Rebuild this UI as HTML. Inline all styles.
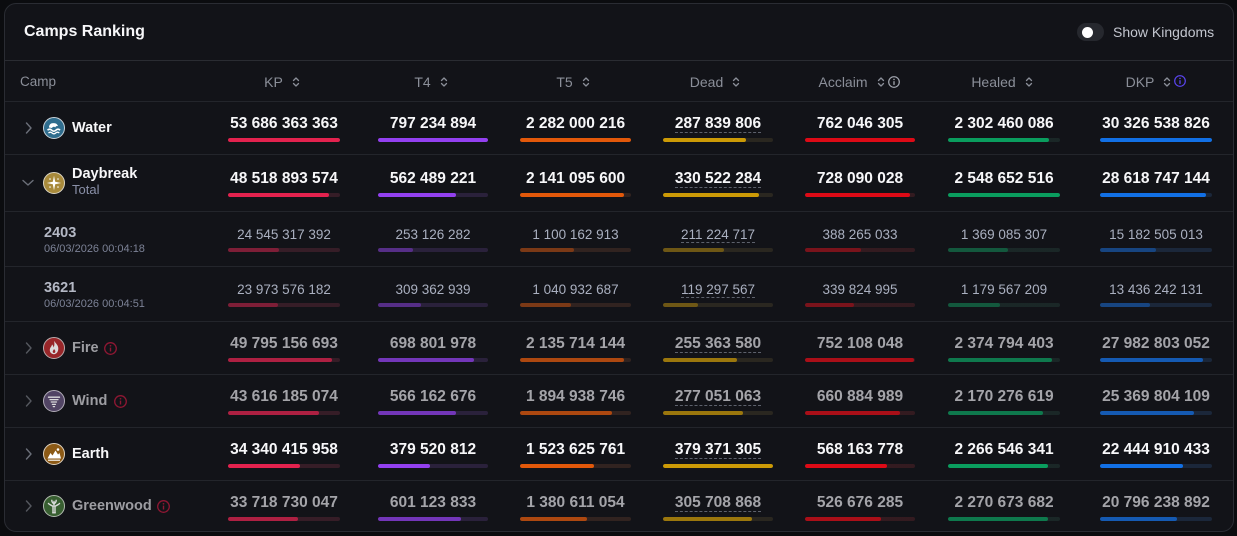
<!DOCTYPE html>
<html><head><meta charset="utf-8">
<style>
*{box-sizing:border-box}
html,body{margin:0;padding:0}
body{width:1237px;height:536px;overflow:hidden;background:#0b0c0f;font-family:"Liberation Sans",sans-serif;position:relative}
.card{position:absolute;left:4px;top:3px;width:1230px;height:529px;border:1px solid #2a2c33;border-radius:12px;background:#121318}
.hl{position:absolute;left:5px;width:1228px;height:1px;background:#23252b}
.t{position:absolute;white-space:nowrap}
.v{position:absolute;width:150px;height:20px;line-height:20px;text-align:center;font-weight:bold;font-size:15.5px;color:#f7f7f9;white-space:nowrap}
.dim .v{color:#a4a4a9}
.k .v{font-weight:normal;font-size:13.5px;color:#aab0c0}
.u{border-bottom:1px dashed #5d616c}
.b{position:absolute;height:4px;border-radius:2px;overflow:hidden}
.b i{display:block;height:100%;border-radius:2px}
.dim .b i{opacity:.7}
.k .b i{opacity:.42}
.c1{background:linear-gradient(rgba(225,29,72,.13),rgba(225,29,72,.13)),#1c1d22}.c1 i{background:#e3224e}
.c2{background:linear-gradient(rgba(147,64,240,.12),rgba(147,64,240,.12)),#1c1d22}.c2 i{background:#9340f0}
.c3{background:linear-gradient(rgba(234,88,12,.1),rgba(234,88,12,.1)),#1c1d22}.c3 i{background:#e2580a}
.c4{background:linear-gradient(rgba(204,154,6,.08),rgba(204,154,6,.08)),#1c1d22}.c4 i{background:#cc9a06}
.c5{background:linear-gradient(rgba(220,10,20,.12),rgba(220,10,20,.12)),#1c1d22}.c5 i{background:#dd0a16}
.c6{background:linear-gradient(rgba(10,157,94,.08),rgba(10,157,94,.08)),#1c1d22}.c6 i{background:#0a9d5e}
.c7{background:linear-gradient(rgba(18,112,229,.12),rgba(18,112,229,.12)),#1c1d22}.c7 i{background:#1270e5}
.hd{position:absolute;top:72px;width:140px;height:20px;display:flex;justify-content:center;align-items:center;font-size:14px;color:#8b8f99;gap:9px}
.hd svg{display:block}
.nm{position:absolute;left:72px;font-weight:bold;font-size:14.5px;color:#f7f7f9;height:20px;line-height:20px;white-space:nowrap}
.dim .nm{color:#9d9da2}
.ic{position:absolute;left:43px;width:22px;height:22px}
.dim .ic{opacity:.85}
.ch{position:absolute}
</style></head><body>
<div class="card"></div>

<div class="t" style="left:24px;top:22px;line-height:20px;font-size:16px;font-weight:bold;color:#f7f7f9">Camps Ranking</div>
<div style="position:absolute;left:1077px;top:23px;width:27px;height:18px;border-radius:9px;background:#26282e"></div>
<div style="position:absolute;left:1081.5px;top:27px;width:11px;height:11px;border-radius:50%;background:#fff"></div>
<div class="t" style="left:1113px;top:22px;line-height:20px;font-size:14px;color:#c3c6cf">Show Kingdoms</div>

<div class="hl" style="top:60px;background:#2a2c32"></div>
<div class="hl" style="top:101px"></div>
<div class="hl" style="top:154px"></div>
<div class="hl" style="top:211px"></div>
<div class="hl" style="top:266px"></div>
<div class="hl" style="top:321px"></div>
<div class="hl" style="top:374px"></div>
<div class="hl" style="top:427px"></div>
<div class="hl" style="top:480px"></div>

<!-- headers -->
<div class="t" style="left:20px;top:72px;line-height:20px;font-size:13.5px;color:#8b8f99">Camp</div>
<div class="hd" style="left:212px">KP<svg width="8" height="12" viewBox="0 0 8 12"><path d="M1.5 4.5L4 2L6.5 4.5M1.5 7.5L4 10L6.5 7.5" fill="none" stroke="#8b8f99" stroke-width="1.3" stroke-linecap="round" stroke-linejoin="round"/></svg></div>
<div class="hd" style="left:361px">T4<svg width="8" height="12" viewBox="0 0 8 12"><path d="M1.5 4.5L4 2L6.5 4.5M1.5 7.5L4 10L6.5 7.5" fill="none" stroke="#8b8f99" stroke-width="1.3" stroke-linecap="round" stroke-linejoin="round"/></svg></div>
<div class="hd" style="left:503px">T5<svg width="8" height="12" viewBox="0 0 8 12"><path d="M1.5 4.5L4 2L6.5 4.5M1.5 7.5L4 10L6.5 7.5" fill="none" stroke="#8b8f99" stroke-width="1.3" stroke-linecap="round" stroke-linejoin="round"/></svg></div>
<div class="hd" style="left:645px">Dead<svg width="8" height="12" viewBox="0 0 8 12"><path d="M1.5 4.5L4 2L6.5 4.5M1.5 7.5L4 10L6.5 7.5" fill="none" stroke="#8b8f99" stroke-width="1.3" stroke-linecap="round" stroke-linejoin="round"/></svg></div>
<div class="hd" style="left:789px">Acclaim<span style="display:flex;gap:3px;align-items:center"><svg width="8" height="12" viewBox="0 0 8 12"><path d="M1.5 4.5L4 2L6.5 4.5M1.5 7.5L4 10L6.5 7.5" fill="none" stroke="#8b8f99" stroke-width="1.3" stroke-linecap="round" stroke-linejoin="round"/></svg><svg width="12" height="12" viewBox="0 0 12 12"><circle cx="6" cy="6" r="5.3" fill="none" stroke="#a3a7b0" stroke-width="1.2"/><path d="M6 5.2V8.9" stroke="#a3a7b0" stroke-width="1.3"/><circle cx="6" cy="3.4" r=".8" fill="#a3a7b0"/></svg></span></div>
<div class="hd" style="left:932px">Healed<svg width="8" height="12" viewBox="0 0 8 12"><path d="M1.5 4.5L4 2L6.5 4.5M1.5 7.5L4 10L6.5 7.5" fill="none" stroke="#8b8f99" stroke-width="1.3" stroke-linecap="round" stroke-linejoin="round"/></svg></div>
<div class="hd" style="left:1086px">DKP<span style="display:flex;gap:3px;align-items:center"><svg width="8" height="12" viewBox="0 0 8 12"><path d="M1.5 4.5L4 2L6.5 4.5M1.5 7.5L4 10L6.5 7.5" fill="none" stroke="#8b8f99" stroke-width="1.3" stroke-linecap="round" stroke-linejoin="round"/></svg><svg width="12" height="12" viewBox="0 0 12 12" style="margin-top:-3px"><circle cx="6" cy="6" r="5.3" fill="none" stroke="#5b45f0" stroke-width="1.2"/><path d="M6 5.2V8.9" stroke="#5b45f0" stroke-width="1.3"/><circle cx="6" cy="3.4" r=".8" fill="#5b45f0"/></svg></span></div>

<!-- WATER -->
<div>
<svg class="ch" style="left:25px;top:122px" width="8" height="12" viewBox="0 0 8 12"><path d="M1.5 1L6 6L1.5 11" fill="none" stroke="#6b6f79" stroke-width="1.4" stroke-linecap="round" stroke-linejoin="round"/></svg>
<svg class="ic" style="top:116.5px" viewBox="0 0 22 22"><circle cx="11" cy="11" r="10.5" fill="#2f6d8e" stroke="#c9d3da" stroke-width="1"/><path d="M6 10.5C6 7.5 8 6 10.5 6.2C13 6 14.5 7.5 15 9.2C13.5 8.6 12.5 9.5 12.2 10.5C11.3 9.3 9.5 9.6 9 11Z" fill="#fff"/><path d="M4.5 13.2q2.1-2 4.2 0t4.2 0t4.2 0" fill="none" stroke="#fff" stroke-width="1.5"/><path d="M5.5 16q1.8-1.6 3.6 0t3.6 0t3.6 0" fill="none" stroke="#fff" stroke-width="1.3"/></svg>
<div class="nm" style="top:118px">Water</div>
<div class="v" style="left:209px;top:114px">53 686 363 363</div><div class="b c1" style="left:228px;top:138px;width:112px"><i style="width:100%"></i></div>
<div class="v" style="left:358px;top:114px">797 234 894</div><div class="b c2" style="left:378px;top:138px;width:110px"><i style="width:100%"></i></div>
<div class="v" style="left:500.5px;top:114px">2 282 000 216</div><div class="b c3" style="left:520px;top:138px;width:111px"><i style="width:100%"></i></div>
<div class="v" style="left:643px;top:114px"><span class="u">287 839 806</span></div><div class="b c4" style="left:663px;top:138px;width:110px"><i style="width:75.9%"></i></div>
<div class="v" style="left:785px;top:114px">762 046 305</div><div class="b c5" style="left:805px;top:138px;width:110px"><i style="width:100%"></i></div>
<div class="v" style="left:929px;top:114px">2 302 460 086</div><div class="b c6" style="left:948px;top:138px;width:112px"><i style="width:90.3%"></i></div>
<div class="v" style="left:1081px;top:114px">30 326 538 826</div><div class="b c7" style="left:1100px;top:138px;width:112px"><i style="width:100%"></i></div>
</div>

<!-- DAYBREAK -->
<div>
<svg class="ch" style="left:22px;top:179px" width="12" height="8" viewBox="0 0 12 8"><path d="M1 1.5L6 6L11 1.5" fill="none" stroke="#6b6f79" stroke-width="1.4" stroke-linecap="round" stroke-linejoin="round"/></svg>
<svg class="ic" style="top:172px" viewBox="0 0 22 22"><circle cx="11" cy="11" r="10.5" fill="#a88a3b" stroke="#ddd6c3" stroke-width="1"/><path d="M11 3.8L12.2 9.8L18.2 11L12.2 12.2L11 18.2L9.8 12.2L3.8 11L9.8 9.8Z" fill="#fff"/><circle cx="7" cy="7" r=".8" fill="#fff"/><circle cx="15" cy="7" r=".8" fill="#fff"/><circle cx="7" cy="15" r=".8" fill="#fff"/><circle cx="15" cy="15" r=".8" fill="#fff"/></svg>
<div class="nm" style="top:164px">Daybreak</div>
<div class="t" style="left:72px;top:181px;line-height:18px;font-size:13px;color:#8a90a8">Total</div>
<div class="v" style="left:209px;top:169px">48 518 893 574</div><div class="b c1" style="left:228px;top:193px;width:112px"><i style="width:90.4%"></i></div>
<div class="v" style="left:358px;top:169px">562 489 221</div><div class="b c2" style="left:378px;top:193px;width:110px"><i style="width:70.6%"></i></div>
<div class="v" style="left:500.5px;top:169px">2 141 095 600</div><div class="b c3" style="left:520px;top:193px;width:111px"><i style="width:93.8%"></i></div>
<div class="v" style="left:643px;top:169px"><span class="u">330 522 284</span></div><div class="b c4" style="left:663px;top:193px;width:110px"><i style="width:87.1%"></i></div>
<div class="v" style="left:785px;top:169px">728 090 028</div><div class="b c5" style="left:805px;top:193px;width:110px"><i style="width:95.5%"></i></div>
<div class="v" style="left:929px;top:169px">2 548 652 516</div><div class="b c6" style="left:948px;top:193px;width:112px"><i style="width:100%"></i></div>
<div class="v" style="left:1081px;top:169px">28 618 747 144</div><div class="b c7" style="left:1100px;top:193px;width:112px"><i style="width:94.4%"></i></div>
</div>

<!-- 2403 -->
<div class="k">
<div class="t" style="left:44px;top:223px;line-height:20px;font-size:14.5px;font-weight:bold;color:#b4b8c5">2403</div>
<div class="t" style="left:44px;top:241.5px;line-height:14px;font-size:11px;color:#7c8296">06/03/2026 00:04:18</div>
<div class="v" style="left:209px;top:225px">24 545 317 392</div><div class="b c1" style="left:228px;top:248px;width:112px"><i style="width:45.7%"></i></div>
<div class="v" style="left:358px;top:225px">253 126 282</div><div class="b c2" style="left:378px;top:248px;width:110px"><i style="width:31.8%"></i></div>
<div class="v" style="left:500.5px;top:225px">1 100 162 913</div><div class="b c3" style="left:520px;top:248px;width:111px"><i style="width:48.2%"></i></div>
<div class="v" style="left:643px;top:225px"><span class="u">211 224 717</span></div><div class="b c4" style="left:663px;top:248px;width:110px"><i style="width:55.7%"></i></div>
<div class="v" style="left:785px;top:225px">388 265 033</div><div class="b c5" style="left:805px;top:248px;width:110px"><i style="width:51%"></i></div>
<div class="v" style="left:929px;top:225px">1 369 085 307</div><div class="b c6" style="left:948px;top:248px;width:112px"><i style="width:53.7%"></i></div>
<div class="v" style="left:1081px;top:225px">15 182 505 013</div><div class="b c7" style="left:1100px;top:248px;width:112px"><i style="width:50.1%"></i></div>
</div>

<!-- 3621 -->
<div class="k">
<div class="t" style="left:44px;top:278px;line-height:20px;font-size:14.5px;font-weight:bold;color:#b4b8c5">3621</div>
<div class="t" style="left:44px;top:296.5px;line-height:14px;font-size:11px;color:#7c8296">06/03/2026 00:04:51</div>
<div class="v" style="left:209px;top:280px">23 973 576 182</div><div class="b c1" style="left:228px;top:303px;width:112px"><i style="width:44.7%"></i></div>
<div class="v" style="left:358px;top:280px">309 362 939</div><div class="b c2" style="left:378px;top:303px;width:110px"><i style="width:38.8%"></i></div>
<div class="v" style="left:500.5px;top:280px">1 040 932 687</div><div class="b c3" style="left:520px;top:303px;width:111px"><i style="width:45.6%"></i></div>
<div class="v" style="left:643px;top:280px"><span class="u">119 297 567</span></div><div class="b c4" style="left:663px;top:303px;width:110px"><i style="width:31.4%"></i></div>
<div class="v" style="left:785px;top:280px">339 824 995</div><div class="b c5" style="left:805px;top:303px;width:110px"><i style="width:44.6%"></i></div>
<div class="v" style="left:929px;top:280px">1 179 567 209</div><div class="b c6" style="left:948px;top:303px;width:112px"><i style="width:46.3%"></i></div>
<div class="v" style="left:1081px;top:280px">13 436 242 131</div><div class="b c7" style="left:1100px;top:303px;width:112px"><i style="width:44.3%"></i></div>
</div>

<!-- FIRE -->
<div class="dim">
<svg class="ch" style="left:25px;top:342px" width="8" height="12" viewBox="0 0 8 12"><path d="M1.5 1L6 6L1.5 11" fill="none" stroke="#55585f" stroke-width="1.4" stroke-linecap="round" stroke-linejoin="round"/></svg>
<svg class="ic" style="top:337px" viewBox="0 0 22 22"><circle cx="11" cy="11" r="10.5" fill="#b02a2c" stroke="#d8c6c6" stroke-width="1"/><path d="M11 3.8C13 6.8 16 8.8 15.2 12.8C14.7 15.8 12.7 17.2 11 17.2C8.8 17.2 6.8 15.6 6.8 13C6.8 10.5 8.8 9.6 9 7.4C10 8.4 10.5 9.5 10.5 10.6C11.6 9 11.6 6.2 11 3.8Z" fill="#fff"/><path d="M11 12C12 13 12.6 14 12.3 15C12 15.8 11.5 16 11 16C10.2 16 9.7 15.4 9.7 14.6C9.7 13.6 10.6 13.2 11 12Z" fill="#b02a2c"/></svg>
<div class="nm" style="top:338px">Fire</div>
<svg style="position:absolute;left:103.5px;top:341.5px" width="13" height="13" viewBox="0 0 13 13"><circle cx="6.5" cy="6.5" r="5.8" fill="none" stroke="#8f1733" stroke-width="1.3"/><path d="M6.5 5.6V9.5" stroke="#8f1733" stroke-width="1.4"/><circle cx="6.5" cy="3.8" r=".85" fill="#8f1733"/></svg>
<div class="v" style="left:209px;top:334px">49 795 156 693</div><div class="b c1" style="left:228px;top:358px;width:112px"><i style="width:92.8%"></i></div>
<div class="v" style="left:358px;top:334px">698 801 978</div><div class="b c2" style="left:378px;top:358px;width:110px"><i style="width:87.7%"></i></div>
<div class="v" style="left:500.5px;top:334px">2 135 714 144</div><div class="b c3" style="left:520px;top:358px;width:111px"><i style="width:93.6%"></i></div>
<div class="v" style="left:643px;top:334px"><span class="u">255 363 580</span></div><div class="b c4" style="left:663px;top:358px;width:110px"><i style="width:67.3%"></i></div>
<div class="v" style="left:785px;top:334px">752 108 048</div><div class="b c5" style="left:805px;top:358px;width:110px"><i style="width:98.7%"></i></div>
<div class="v" style="left:929px;top:334px">2 374 794 403</div><div class="b c6" style="left:948px;top:358px;width:112px"><i style="width:93.2%"></i></div>
<div class="v" style="left:1081px;top:334px">27 982 803 052</div><div class="b c7" style="left:1100px;top:358px;width:112px"><i style="width:92.3%"></i></div>
</div>

<!-- WIND -->
<div class="dim">
<svg class="ch" style="left:25px;top:395px" width="8" height="12" viewBox="0 0 8 12"><path d="M1.5 1L6 6L1.5 11" fill="none" stroke="#55585f" stroke-width="1.4" stroke-linecap="round" stroke-linejoin="round"/></svg>
<svg class="ic" style="top:390px" viewBox="0 0 22 22"><circle cx="11" cy="11" r="10.5" fill="#5d4d72" stroke="#cfc9d6" stroke-width="1"/><path d="M5.5 7.2H16.5M7 9.6H15M8.3 12H13.5M9.4 14.4H12.4M10.3 16.6H11.5" stroke="#fff" stroke-width="1.3" stroke-linecap="round"/></svg>
<div class="nm" style="top:391px">Wind</div>
<svg style="position:absolute;left:113.5px;top:394.5px" width="13" height="13" viewBox="0 0 13 13"><circle cx="6.5" cy="6.5" r="5.8" fill="none" stroke="#8f1733" stroke-width="1.3"/><path d="M6.5 5.6V9.5" stroke="#8f1733" stroke-width="1.4"/><circle cx="6.5" cy="3.8" r=".85" fill="#8f1733"/></svg>
<div class="v" style="left:209px;top:387px">43 616 185 074</div><div class="b c1" style="left:228px;top:411px;width:112px"><i style="width:81.2%"></i></div>
<div class="v" style="left:358px;top:387px">566 162 676</div><div class="b c2" style="left:378px;top:411px;width:110px"><i style="width:71%"></i></div>
<div class="v" style="left:500.5px;top:387px">1 894 938 746</div><div class="b c3" style="left:520px;top:411px;width:111px"><i style="width:83%"></i></div>
<div class="v" style="left:643px;top:387px"><span class="u">277 051 063</span></div><div class="b c4" style="left:663px;top:411px;width:110px"><i style="width:73%"></i></div>
<div class="v" style="left:785px;top:387px">660 884 989</div><div class="b c5" style="left:805px;top:411px;width:110px"><i style="width:86.7%"></i></div>
<div class="v" style="left:929px;top:387px">2 170 276 619</div><div class="b c6" style="left:948px;top:411px;width:112px"><i style="width:85.2%"></i></div>
<div class="v" style="left:1081px;top:387px">25 369 804 109</div><div class="b c7" style="left:1100px;top:411px;width:112px"><i style="width:83.7%"></i></div>
</div>

<!-- EARTH -->
<div>
<svg class="ch" style="left:25px;top:448px" width="8" height="12" viewBox="0 0 8 12"><path d="M1.5 1L6 6L1.5 11" fill="none" stroke="#6b6f79" stroke-width="1.4" stroke-linecap="round" stroke-linejoin="round"/></svg>
<svg class="ic" style="top:443px" viewBox="0 0 22 22"><circle cx="11" cy="11" r="10.5" fill="#8c5a16" stroke="#e0d3c0" stroke-width="1"/><path d="M4.5 15.5L7.5 10L9.5 12.5L12.5 7.5L15 11.5L16.5 10L18 15.5Z" fill="#fff"/><circle cx="15" cy="6.5" r="1.3" fill="#fff"/><path d="M5 17.2H17" stroke="#fff" stroke-width="1.1"/></svg>
<div class="nm" style="top:444px">Earth</div>
<div class="v" style="left:209px;top:440px">34 340 415 958</div><div class="b c1" style="left:228px;top:464px;width:112px"><i style="width:64%"></i></div>
<div class="v" style="left:358px;top:440px">379 520 812</div><div class="b c2" style="left:378px;top:464px;width:110px"><i style="width:47.6%"></i></div>
<div class="v" style="left:500.5px;top:440px">1 523 625 761</div><div class="b c3" style="left:520px;top:464px;width:111px"><i style="width:66.8%"></i></div>
<div class="v" style="left:643px;top:440px"><span class="u">379 371 305</span></div><div class="b c4" style="left:663px;top:464px;width:110px"><i style="width:100%"></i></div>
<div class="v" style="left:785px;top:440px">568 163 778</div><div class="b c5" style="left:805px;top:464px;width:110px"><i style="width:74.6%"></i></div>
<div class="v" style="left:929px;top:440px">2 266 546 341</div><div class="b c6" style="left:948px;top:464px;width:112px"><i style="width:88.9%"></i></div>
<div class="v" style="left:1081px;top:440px">22 444 910 433</div><div class="b c7" style="left:1100px;top:464px;width:112px"><i style="width:74%"></i></div>
</div>

<!-- GREENWOOD -->
<div class="dim">
<svg class="ch" style="left:25px;top:500px" width="8" height="12" viewBox="0 0 8 12"><path d="M1.5 1L6 6L1.5 11" fill="none" stroke="#55585f" stroke-width="1.4" stroke-linecap="round" stroke-linejoin="round"/></svg>
<svg class="ic" style="top:495px" viewBox="0 0 22 22"><circle cx="11" cy="11" r="10.5" fill="#3f6d36" stroke="#cdd8c9" stroke-width="1"/><path d="M10 17.5V11.5C8.5 10 6.5 10 5.5 8.5M12 17.5V11.5C13.5 10 15.5 10 16.5 8.5M11 11V6.5M11 9C9.5 8 8.8 6.5 8.8 5.3M11 9C12.5 8 13.2 6.5 13.2 5.3" fill="none" stroke="#fff" stroke-width="1.4" stroke-linecap="round"/><path d="M9.2 17.8H12.8" stroke="#fff" stroke-width="1.3"/></svg>
<div class="nm" style="top:496px">Greenwood</div>
<svg style="position:absolute;left:156.5px;top:499.5px" width="13" height="13" viewBox="0 0 13 13"><circle cx="6.5" cy="6.5" r="5.8" fill="none" stroke="#8f1733" stroke-width="1.3"/><path d="M6.5 5.6V9.5" stroke="#8f1733" stroke-width="1.4"/><circle cx="6.5" cy="3.8" r=".85" fill="#8f1733"/></svg>
<div class="v" style="left:209px;top:493px">33 718 730 047</div><div class="b c1" style="left:228px;top:517px;width:112px"><i style="width:62.8%"></i></div>
<div class="v" style="left:358px;top:493px">601 123 833</div><div class="b c2" style="left:378px;top:517px;width:110px"><i style="width:75.4%"></i></div>
<div class="v" style="left:500.5px;top:493px">1 380 611 054</div><div class="b c3" style="left:520px;top:517px;width:111px"><i style="width:60.5%"></i></div>
<div class="v" style="left:643px;top:493px"><span class="u">305 708 868</span></div><div class="b c4" style="left:663px;top:517px;width:110px"><i style="width:80.6%"></i></div>
<div class="v" style="left:785px;top:493px">526 676 285</div><div class="b c5" style="left:805px;top:517px;width:110px"><i style="width:69.1%"></i></div>
<div class="v" style="left:929px;top:493px">2 270 673 682</div><div class="b c6" style="left:948px;top:517px;width:112px"><i style="width:89.1%"></i></div>
<div class="v" style="left:1081px;top:493px">20 796 238 892</div><div class="b c7" style="left:1100px;top:517px;width:112px"><i style="width:68.6%"></i></div>
</div>

</body></html>
